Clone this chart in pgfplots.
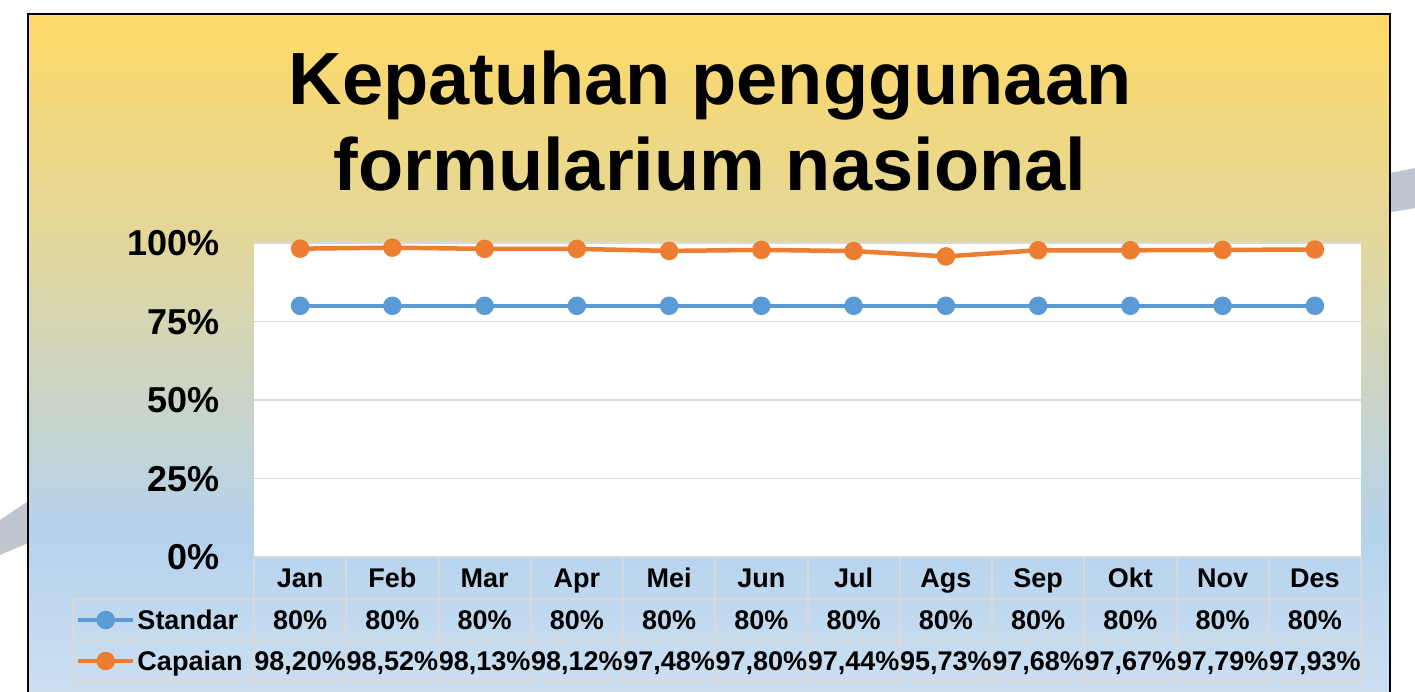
\documentclass[border=0pt]{standalone}
\usepackage{fontspec}
\setmainfont{Liberation Sans}
\usepackage{pgfplots}
\usepackage{pgfplotstable}
\pgfplotsset{compat=1.18}
\definecolor{cblue}{RGB}{91,155,213}
\definecolor{corange}{RGB}{237,125,49}
\definecolor{cgrid}{RGB}{217,217,217}
\definecolor{ctop}{RGB}{254,217,102}
\definecolor{cmid}{RGB}{225,215,158}
\definecolor{cbl}{RGB}{181,210,236}
\definecolor{cbot}{RGB}{203,223,241}
\definecolor{cband}{RGB}{192,198,208}
\pgfdeclareverticalshading{bgshade}{100bp}{color(0bp)=(cbot); color(25bp)=(cbot); color(36.9bp)=(cbl); color(57.6bp)=(cmid); color(75bp)=(ctop); color(100bp)=(ctop)}
\pgfplotstableread{
x std cap
0 80 98.20
1 80 98.52
2 80 98.13
3 80 98.12
4 80 97.48
5 80 97.80
6 80 97.44
7 80 95.73
8 80 97.68
9 80 97.67
10 80 97.79
11 80 97.93
}\data
\newcommand{\tabfont}{\fontsize{27}{30}\selectfont\bfseries}
\begin{document}
\begin{tikzpicture}[x=1pt,y=1pt]
\useasboundingbox (0,0) rectangle (1415,691);
\clip (0,0) rectangle (1415,691);
\fill[cband] (1380,516) -- (1415,523) -- (1415,483) -- (1380,477) -- cycle;
\fill[cband] (0,171) -- (40,198) -- (40,153) -- (0,136) -- cycle;
\shade[shading=bgshade] (28,0) rectangle (1390,677);
\draw[line width=2pt] (28,-5) -- (28,677) -- (1390,677) -- (1390,-5);
\node[anchor=base, font=\fontsize{74}{80}\selectfont\bfseries, inner sep=0pt] at (710,586) {Kepatuhan penggunaan};
\node[anchor=base, font=\fontsize{74}{80}\selectfont\bfseries, inner sep=0pt] at (710,500) {formularium nasional};
\begin{axis}[
  at={(254pt,134pt)}, anchor=south west,
  scale only axis, width=1107pt, height=314pt,
  xmin=-0.5, xmax=11.5, ymin=0, ymax=100,
  clip=false,
  /pgf/number format/assume math mode=true,
  axis line style={draw=none},
  major tick length=0pt,
  axis background/.style={fill=white},
  ytick={0,25,50,75,100},
  ymajorgrids, grid style={cgrid, line width=1.5pt},
  yticklabel={\pgfmathprintnumber{\tick}\%},
  yticklabel style={font=\fontsize{36}{40}\selectfont\bfseries, anchor=east, inner sep=0pt, xshift=-34pt, text height=25.8pt, text depth=0pt},
  xtick={0,...,11},
  xticklabels={Jan,Feb,Mar,Apr,Mei,Jun,Jul,Ags,Sep,Okt,Nov,Des},
  xticklabel style={font=\tabfont, anchor=center, inner sep=0pt, text height=19.5pt, text depth=0pt, yshift=-21pt},
  legend style={at={(-0.1608,-0.1696)}, anchor=north west, draw=none, fill=none, inner sep=0pt, outer sep=0pt, row sep=21.5pt, column sep=2pt, nodes={inner sep=0pt, font=\tabfont, text height=19.5pt, text depth=0pt}},
  legend cell align=left,
  legend image code/.code={\draw[mark repeat=2, mark phase=2] plot coordinates {(0pt,0pt) (27.5pt,0pt) (55pt,0pt)};},
]
\addplot[cblue, line width=4.5pt, line join=round, mark=*, mark size=7pt, mark options={solid}] table[x=x,y=std]{\data};
\addlegendentry{Standar}
\addplot[corange, line width=4.5pt, line join=round, mark=*, mark size=7pt, mark options={solid}] table[x=x,y=cap]{\data};
\addlegendentry{Capaian}
\addplot[draw=none, mark=none, forget plot, point meta=explicit,
  nodes near coords={\pgfmathprintnumber{\pgfplotspointmeta}\%},
  every node near coord/.style={font=\tabfont, anchor=center, inner sep=0pt, text height=19.5pt, text depth=0pt, black}]
  table[x=x, y expr=-20.06, meta=std]{\data};
\addplot[draw=none, mark=none, forget plot, point meta=explicit,
  nodes near coords={\pgfmathprintnumber[fixed, fixed zerofill, precision=2, use comma]{\pgfplotspointmeta}\%},
  every node near coord/.style={font=\tabfont, anchor=center, inner sep=0pt, text height=19.5pt, text depth=0pt, black}]
  table[x=x, y expr=-33.12, meta=cap]{\data};
\end{axis}
\begin{scope}[cgrid, line width=2pt]
\foreach \k in {0,...,12} \draw (254+92.25*\k,134) -- ++(0,-124);
\draw (73,92) -- (1361,92);
\draw (73,51) -- (1361,51);
\draw (73,10) -- (1361,10);
\draw (73,92) -- (73,10);
\end{scope}
\end{tikzpicture}
\end{document}
